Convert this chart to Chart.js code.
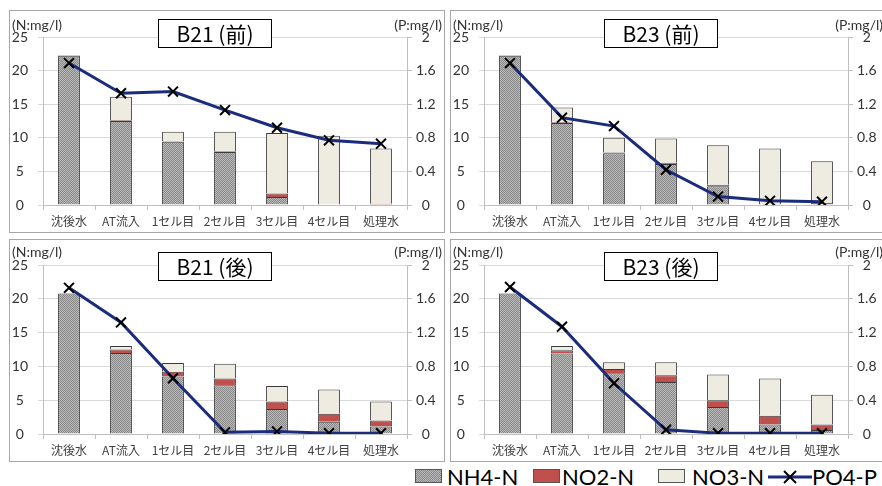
<!DOCTYPE html>
<html>
<head>
<meta charset="utf-8">
<script src="https://cdn.jsdelivr.net/npm/chart.js@4"></script>
<style>
  body { margin:0; width:882px; height:486px; background:#fff; position:relative; overflow:hidden; }
  .panel { position:absolute; width:436px; height:223px; border:1px solid #a6a6a6; box-sizing:border-box; background:#fff; }
  .panel canvas { display:block; }
  .sw { position:absolute; top:469px; width:27px; height:14px; border:1px solid #555; box-sizing:border-box; }
  .nh4 { background:repeating-conic-gradient(#8a8a8a 0 25%, #b8b8b8 0 50%) 0 0/2px 2px; }
  .no2 { background:#c0504d; }
  .no3 { background:#eeece1; }
  .lt { position:absolute; top:462px; font:22px Lato, "Noto Sans", sans-serif; color:#000; line-height:30px; white-space:nowrap; }
</style>
</head>
<body>

<div class="panel" style="left:9px;top:10px"><canvas id="c1" width="434" height="221"></canvas></div>
<div class="panel" style="left:450px;top:10px"><canvas id="c2" width="434" height="221"></canvas></div>
<div class="panel" style="left:9px;top:239px"><canvas id="c3" width="434" height="221"></canvas></div>
<div class="panel" style="left:450px;top:239px"><canvas id="c4" width="434" height="221"></canvas></div>

<!-- shared legend -->
<span class="sw nh4" style="left:415px"></span><span class="lt" style="left:447px">NH4-N</span>
<span class="sw no2" style="left:533px"></span><span class="lt" style="left:562px">NO2-N</span>
<span class="sw no3" style="left:658px"></span><span class="lt" style="left:692px">NO3-N</span>
<svg style="position:absolute;left:768px;top:468px" width="44" height="18">
  <line x1="0" y1="9" x2="44" y2="9" stroke="#1c2c7c" stroke-width="3"/>
  <line x1="16" y1="3" x2="28" y2="15" stroke="#000" stroke-width="2"/>
  <line x1="28" y1="3" x2="16" y2="15" stroke="#000" stroke-width="2"/>
</svg>
<span class="lt" style="left:812px">PO4-P</span>

<script>
// ====================== DATA ======================
const categories = ['沈後水', 'AT流入', '1セル目', '2セル目', '3セル目', '4セル目', '処理水'];

// B21 (前)
const b21preNH4 = [22.2, 12.5, 9.4, 7.9, 1.2, 0, 0];
const b21preNO2 = [0.1, 0.1, 0.1, 0.1, 0.5, 0, 0.2];
const b21preNO3 = [0, 3.5, 1.4, 2.9, 9.0, 10.3, 8.2];
const b21prePO4 = [1.69, 1.33, 1.35, 1.13, 0.92, 0.77, 0.73];

// B23 (前)
const b23preNH4 = [22.2, 12.2, 7.7, 6.1, 2.8, 0.1, 0.1];
const b23preNO2 = [0.1, 0.1, 0.1, 0.2, 0.2, 0, 0.2];
const b23preNO3 = [0, 2.2, 2.2, 3.6, 5.9, 8.3, 6.2];
const b23prePO4 = [1.69, 1.04, 0.94, 0.42, 0.10, 0.05, 0.04];

// B21 (後)
const b21postNH4 = [20.8, 12.0, 8.5, 7.2, 3.7, 1.8, 1.1];
const b21postNO2 = [0, 0.5, 0.7, 1.0, 1.1, 1.2, 0.9];
const b21postNO3 = [0, 0.5, 1.3, 2.2, 2.3, 3.6, 2.8];
const b21postPO4 = [1.73, 1.32, 0.66, 0.02, 0.03, 0.01, 0.01];

// B23 (後)
const b23postNH4 = [20.8, 11.9, 9.0, 7.7, 4.0, 1.4, 0.6];
const b23postNO2 = [0, 0.5, 0.6, 1.0, 1.0, 1.3, 0.8];
const b23postNO3 = [0, 0.6, 1.0, 1.9, 3.8, 5.5, 4.4];
const b23postPO4 = [1.74, 1.27, 0.60, 0.05, 0.01, 0.01, 0.01];

const nAxisMax = 25, nStep = 5;
const pAxisMax = 2, pStep = 0.4;

// ====================== STYLE ======================
const navy = '#1c2c7c';
const tickFont = { family: 'Lato, "Noto Sans", sans-serif', size: 14 };
const catFont = { family: '"Noto Sans CJK JP", sans-serif', size: 12 };

// dotted grey fill used for NH4-N
function makeHatch() {
  const c = document.createElement('canvas');
  c.width = 2; c.height = 2;
  const g = c.getContext('2d');
  g.fillStyle = '#b8b8b8'; g.fillRect(0, 0, 2, 2);
  g.fillStyle = '#8a8a8a'; g.fillRect(0, 0, 1, 1); g.fillRect(1, 1, 1, 1);
  return g.createPattern(c, 'repeat');
}
const hatch = makeHatch();

// unit labels + title box
const panelText = {
  id: 'panelText',
  afterDraw(chart, args, opts) {
    const ctx = chart.ctx;
    ctx.save();
    ctx.font = '14px Lato, "Noto Sans", sans-serif';
    ctx.fillStyle = '#333';
    ctx.textBaseline = 'middle';
    ctx.textAlign = 'left';
    ctx.fillText('(N:mg/l)', 2, opts.unitY);
    ctx.textAlign = 'right';
    ctx.fillText('(P:mg/l)', 432, opts.unitY);

    ctx.fillStyle = '#fff';
    ctx.fillRect(opts.x, opts.y, 114, 29);
    ctx.strokeStyle = '#000';
    ctx.lineWidth = 1;
    ctx.strokeRect(opts.x + 0.5, opts.y + 0.5, 113, 28);
    ctx.fillStyle = '#000';
    ctx.font = '21px "Liberation Sans Narrow", "Noto Sans CJK JP", sans-serif';
    ctx.textAlign = 'center';
    ctx.fillText(opts.title, opts.x + 57, opts.y + 15);
    ctx.restore();
  }
};

function buildChart(id, title, nh4, no2, no3, po4, box) {
  return new Chart(document.getElementById(id), {
    type: 'bar',
    plugins: [panelText],
    data: {
      labels: categories,
      datasets: [
        { type: 'line', label: 'PO4-P', data: po4, yAxisID: 'y1', order: 0,
          borderColor: navy, borderWidth: 3, tension: 0,
          pointStyle: 'crossRot', pointRadius: 7, pointBorderColor: '#000',
          pointBorderWidth: 2, pointBackgroundColor: '#000' },
        { label: 'NH4-N', data: nh4, order: 1, backgroundColor: hatch, borderColor: '#3a3a3a', borderWidth: 1 },
        { label: 'NO2-N', data: no2, order: 1, backgroundColor: '#c0504d', borderColor: '#3a3a3a', borderWidth: 1 },
        { label: 'NO3-N', data: no3, order: 1, backgroundColor: '#eeece1', borderColor: '#3a3a3a', borderWidth: 1 }
      ]
    },
    options: {
      responsive: false,
      animation: false,
      devicePixelRatio: 1,
      categoryPercentage: 1,
      barPercentage: 0.42,
      layout: { padding: { top: box.top, left: 0, right: 0, bottom: 0 } },
      plugins: {
        legend: { display: false },
        tooltip: { enabled: false },
        panelText: { title: title, x: box.x, y: box.y, unitY: box.unitY }
      },
      scales: {
        x: {
          stacked: true, offset: true,
          grid: { offset: true, drawOnChartArea: false, tickLength: 5, color: '#bfbfbf' },
          border: { color: '#bfbfbf' },
          ticks: { font: catFont, color: '#404040', padding: 4, maxRotation: 0, autoSkip: false },
          afterFit: s => { s.height = 27; }
        },
        y: {
          stacked: true, min: 0, max: nAxisMax,
          grid: { color: '#d9d9d9', tickLength: 5 },
          border: { color: '#bfbfbf' },
          ticks: { stepSize: nStep, crossAlign: 'center', padding: 10, font: tickFont, color: '#333' },
          afterFit: s => { s.width = 33; }
        },
        y1: {
          position: 'right', min: 0, max: pAxisMax,
          grid: { drawOnChartArea: false, tickLength: 5, color: '#bfbfbf' },
          border: { color: '#bfbfbf' },
          ticks: { stepSize: pStep, crossAlign: 'center', padding: 4, font: tickFont, color: '#333',
                   callback: v => String(+v.toFixed(1)) },
          afterFit: s => { s.width = 37; }
        }
      }
    }
  });
}

// ==================== CHARTS ====================
buildChart('c1', 'B21 (前)', b21preNH4, b21preNO2, b21preNO3, b21prePO4, { top: 26, x: 148, y: 8, unitY: 14 });
buildChart('c2', 'B23 (前)', b23preNH4, b23preNO2, b23preNO3, b23prePO4, { top: 26, x: 153, y: 8, unitY: 14 });
buildChart('c3', 'B21 (後)', b21postNH4, b21postNO2, b21postNO3, b21postPO4, { top: 25, x: 148, y: 12, unitY: 12 });
buildChart('c4', 'B23 (後)', b23postNH4, b23postNO2, b23postNO3, b23postPO4, { top: 25, x: 153, y: 12, unitY: 12 });
</script>
</body>
</html>
